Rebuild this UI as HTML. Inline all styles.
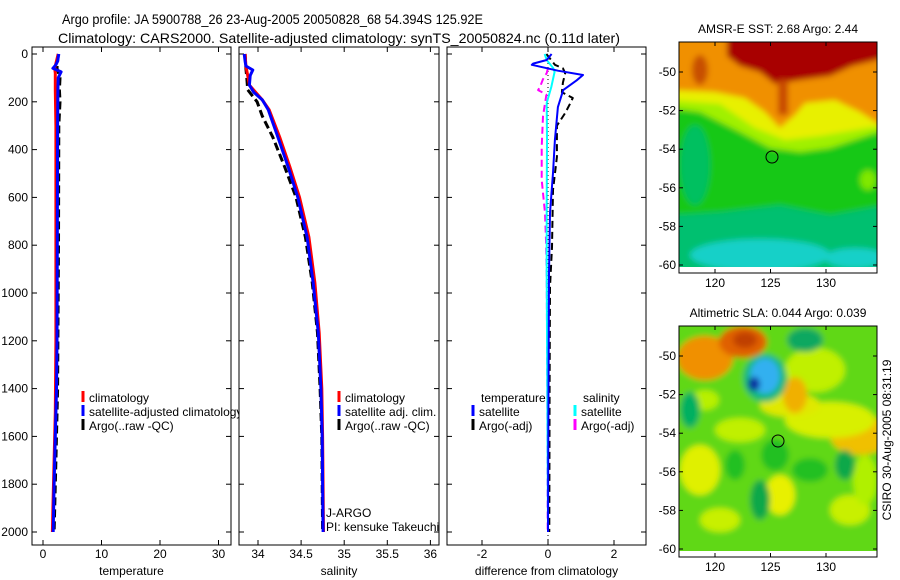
<!DOCTYPE html>
<html><head><meta charset="utf-8"><style>
body{margin:0;background:#fff}
svg{display:block;font-family:"Liberation Sans",sans-serif;font-size:12px}
</style></head><body>
<svg id="c" width="900" height="580" viewBox="0 0 900 580">
<defs>
<filter id="bl" x="-10%" y="-10%" width="120%" height="120%"><feGaussianBlur stdDeviation="3"/></filter>
<clipPath id="cm1"><rect x="679" y="42" width="198" height="225"/></clipPath>
<clipPath id="cm2"><rect x="679" y="326" width="198" height="225"/></clipPath>
</defs>
<text x="62" y="24" font-size="14" textLength="421" lengthAdjust="spacingAndGlyphs">Argo profile: JA 5900788_26 23-Aug-2005 20050828_68 54.394S 125.92E</text>
<text x="58" y="43" font-size="14" textLength="562" lengthAdjust="spacingAndGlyphs">Climatology: CARS2000. Satellite-adjusted climatology: synTS_20050824.nc (0.11d later)</text>

<g>
<text x="778" y="33" text-anchor="middle">AMSR-E SST: 2.68 Argo: 2.44</text>
<g clip-path="url(#cm1)"><g filter="url(#bl)">
<rect x="670" y="35" width="215" height="240" fill="#14c814"/>
<polygon points="670,215 720,212 780,205 830,215 885,205 885,275 670,275" fill="#00c070"/>
<ellipse cx="760" cy="255" rx="70" ry="16" fill="#18d0c8"/>
<ellipse cx="855" cy="258" rx="30" ry="10" fill="#18d0c8"/>
<ellipse cx="695" cy="165" rx="15" ry="40" fill="#00c060"/>
<polygon points="670,108 700,112 740,132 770,148 800,152 830,148 885,130 885,35 670,35" fill="#a0f000"/>
<polygon points="670,100 720,104 755,128 785,140 820,136 885,125 885,35 670,35" fill="#e8f000"/>
<polygon points="670,90 715,92 745,98 765,112 780,128 795,115 805,103 835,100 860,112 885,128 885,35 670,35" fill="#f09000"/>
<polygon points="727,35 885,35 885,58 852,66 830,76 800,80 775,84 760,72 740,66 727,56" fill="#a80000"/>
<rect x="778" y="80" width="10" height="35" fill="#c84800"/>
<ellipse cx="700" cy="70" rx="8" ry="15" fill="#c85000"/>
<ellipse cx="868" cy="180" rx="8" ry="10" fill="#80e800"/>
</g></g>
<rect x="679" y="42" width="198" height="231" fill="none" stroke="#000"/>
<circle cx="772" cy="157" r="6" fill="none" stroke="#000"/>
</g>

<g>
<text x="778" y="317" text-anchor="middle">Altimetric SLA: 0.044 Argo: 0.039</text>
<g clip-path="url(#cm2)"><g filter="url(#bl)">
<rect x="670" y="320" width="215" height="240" fill="#60d818"/>
<ellipse cx="860" cy="435" rx="30" ry="20" fill="#f0c000"/>
<ellipse cx="830" cy="420" rx="45" ry="18" fill="#d8f000"/>
<ellipse cx="790" cy="405" rx="30" ry="12" fill="#e0e800"/>
<ellipse cx="815" cy="370" rx="30" ry="22" fill="#c0f000"/>
<ellipse cx="795" cy="395" rx="12" ry="18" fill="#f0b000"/>
<ellipse cx="700" cy="470" rx="20" ry="25" fill="#e0f000"/>
<ellipse cx="780" cy="495" rx="15" ry="20" fill="#e8f000"/>
<ellipse cx="850" cy="510" rx="20" ry="15" fill="#c8f000"/>
<ellipse cx="740" cy="430" rx="25" ry="12" fill="#c0f000"/>
<ellipse cx="720" cy="520" rx="20" ry="12" fill="#c8f000"/>
<ellipse cx="865" cy="480" rx="12" ry="25" fill="#b0f000"/>
<ellipse cx="705" cy="400" rx="14" ry="10" fill="#b8f000"/>
<ellipse cx="775" cy="455" rx="14" ry="16" fill="#20c020"/>
<ellipse cx="735" cy="465" rx="10" ry="15" fill="#20c020"/>
<ellipse cx="810" cy="470" rx="18" ry="12" fill="#20c020"/>
<ellipse cx="690" cy="410" rx="10" ry="18" fill="#00b060"/>
<ellipse cx="760" cy="500" rx="10" ry="20" fill="#10a848"/>
<ellipse cx="845" cy="465" rx="10" ry="15" fill="#10a848"/>
<ellipse cx="705" cy="358" rx="28" ry="22" fill="#f09000"/>
<ellipse cx="743" cy="342" rx="24" ry="16" fill="#e06000"/>
<ellipse cx="745" cy="340" rx="12" ry="8" fill="#c04000"/>
<ellipse cx="765" cy="378" rx="22" ry="24" fill="#10b878"/>
<ellipse cx="765" cy="376" rx="15" ry="18" fill="#30b0f0"/>
<ellipse cx="754" cy="384" rx="6" ry="7" fill="#1030a0"/>
<ellipse cx="805" cy="340" rx="18" ry="12" fill="#10a860"/>
</g></g>
<rect x="679" y="326" width="198" height="231" fill="none" stroke="#000"/>
<circle cx="778" cy="441" r="6" fill="none" stroke="#000"/>
<text transform="translate(891,440) rotate(-90)" text-anchor="middle">CSIRO 30-Aug-2005 08:31:19</text>
</g>
<g id="g"></g>
</svg>
<script>
// ---- data ----
const depthTicks=[0,200,400,600,800,1000,1200,1400,1600,1800,2000];
const tempTicks=[0,10,20,30];
const salTicks=[34,34.5,35,35.5,36];
const diffTicks=[-2,0,2];
const lonTicks=[120,125,130];
const latTicks=[-50,-52,-54,-56,-58,-60];

const tBlueD=[0,30,45,60,75,100,150,300,800,1200,1400,1600,1800,2000];
const tBlueV=[2.7,2.5,2.2,1.7,3.1,2.6,2.55,2.5,2.45,2.4,2.3,2.1,1.9,1.75];
const tRedD=[0,60,80,150,300,800,1200,1500,1700,1900,2000];
const tRedV=[2.6,2.0,2.1,2.1,2.2,2.2,2.2,2.1,1.9,1.7,1.6];
const tArgoD=[0,60,100,150,200,300,800,1400,1700,1900,2000];
const tArgoV=[2.6,2.4,2.9,2.8,2.9,2.7,2.65,2.5,2.2,2.0,1.9];

const sBlueD=[0,30,50,67,90,130,160,192,234,347,473,598,766,958,1167,1400,1600,1800,2000];
const sBlueV=[33.84,33.85,33.86,33.94,33.91,33.90,33.95,34.05,34.12,34.23,34.35,34.46,34.57,34.64,34.70,34.73,34.745,34.75,34.755];
const sRedD=[0,50,90,130,192,234,347,473,598,766,958,1167,1400,1600,2000];
const sRedV=[33.85,33.86,33.88,33.90,34.05,34.13,34.25,34.37,34.48,34.59,34.66,34.71,34.74,34.75,34.76];
const sArgoD=[0,60,100,150,200,260,347,473,598,766,958,1167,1400,1600,2000];
const sArgoV=[33.85,33.86,33.87,33.88,33.99,34.05,34.17,34.31,34.44,34.55,34.63,34.69,34.72,34.74,34.75];

const dTBlueD=[0,25,40,45,70,88,110,151,222,360,498,665,916,1200,1600,2000];
const dTBlueV=[0.11,-0.04,-0.45,-0.49,0.3,1.06,0.87,0.46,0.30,0.21,0.15,0.06,0.03,0.02,0.01,0.0];
const dTArgoD=[0,45,60,80,120,160,184,210,247,300,431,569,808,975,1400,2000];
const dTArgoV=[-0.05,0.21,0.45,0.52,0.45,0.42,0.75,0.66,0.52,0.27,0.27,0.15,0.12,0.06,0.05,0.04];
const dSBlueD=[0,25,60,75,138,205,360,640,916,1400,2000];
const dSBlueV=[-0.1,-0.04,0.16,0.2,0.1,-0.04,-0.03,-0.04,-0.04,-0.02,0.0];
const dSArgoD=[60,80,105,140,151,170,260,389,527,665,778,916,1400,2000];
const dSArgoV=[0,-0.04,-0.15,-0.25,-0.3,-0.05,-0.15,-0.19,-0.19,-0.09,-0.06,-0.04,-0.02,-0.01];

// ---- drawing ----
const NS='http://www.w3.org/2000/svg';
const G=document.getElementById('g');
function mk(tag,attrs,parent){const e=document.createElementNS(NS,tag);for(const k in attrs)e.setAttribute(k,attrs[k]);(parent||G).appendChild(e);return e;}
const top0=47,bot0=545;
const yD=d=>54+d*47.8/200;
const panels=[
 {x0:32,x1:231,px0:43,ppu:5.85,ref:0,ticks:tempTicks,label:'temperature',name:'temperature-panel'},
 {x0:239,x1:439,px0:258,ppu:86.2,ref:34,ticks:salTicks,label:'salinity',name:'salinity-panel'},
 {x0:447,x1:646,px0:548,ppu:33,ref:0,ticks:diffTicks,label:'difference from climatology',name:'difference-panel'}
];
panels.forEach(p=>{
 p.xs=v=>p.px0+(v-p.ref)*p.ppu;
 const g=mk('g',{});
 
 
 p.g=g;
});
function line(p,D,V,color,w,dash,name){
 const pts=D.map((d,k)=>p.xs(V[k]).toFixed(1)+','+yD(d).toFixed(1)).join(' ');
 const a={points:pts,fill:'none',stroke:color,'stroke-width':w,'stroke-linejoin':'round'};
 if(dash)a['stroke-dasharray']=dash;
 const e=mk('polyline',a,p.g);
 
 
}
function frame(p,i){
 const r=mk('rect',{x:p.x0,y:top0,width:p.x1-p.x0,height:bot0-top0,fill:'#fff',stroke:'#000'},p.g);
 
 
 depthTicks.forEach(d=>{
  const y=yD(d);
  mk('line',{x1:p.x0,x2:p.x0+5,y1:y,y2:y,stroke:'#000'},p.g);
  mk('line',{x1:p.x1,x2:p.x1-5,y1:y,y2:y,stroke:'#000'},p.g);
  if(i==0){const t=mk('text',{x:28,y:y+4,'text-anchor':'end'},p.g);t.textContent=d;
   
   }
 });
 p.ticks.forEach(v=>{
  const x=p.xs(v);
  mk('line',{x1:x,x2:x,y1:bot0,y2:bot0-5,stroke:'#000'},p.g);
  mk('line',{x1:x,x2:x,y1:top0,y2:top0+5,stroke:'#000'},p.g);
  const t=mk('text',{x:x,y:558,'text-anchor':'middle'},p.g);t.textContent=v;
  
  
 });
 const t=mk('text',{x:(p.x0+p.x1)/2,y:575,'text-anchor':'middle'},p.g);t.textContent=p.label;
 
 
}
function legend(p,x,y,color,txt){
 mk('line',{x1:x,x2:x,y1:y-11,y2:y,stroke:color,'stroke-width':3},p.g);
 const t=mk('text',{x:x+6,y:y},p.g);t.textContent=txt;
 
 
}
// panel 1
let p=panels[0];frame(p,0);
line(p,tArgoD,tArgoV,'#000',3,'8,4','argo-temperature');
line(p,tRedD,tRedV,'#f00',3,null,'climatology-temperature');
line(p,tBlueD,tBlueV,'#00f',3,null,'satellite-temperature');
legend(p,83,402,'#f00','climatology');legend(p,83,416,'#00f','satellite-adjusted climatology');legend(p,83,430,'#000','Argo(..raw -QC)');
// panel 2
p=panels[1];frame(p,1);
line(p,sArgoD,sArgoV,'#000',3,'8,4','argo-salinity');
line(p,sRedD,sRedV,'#f00',3,null,'climatology-salinity');
line(p,sBlueD,sBlueV,'#00f',3,null,'satellite-salinity');
legend(p,339,402,'#f00','climatology');legend(p,339,416,'#00f','satellite adj. clim.');legend(p,339,430,'#000','Argo(..raw -QC)');
let t=mk('text',{x:326,y:517},p.g);t.textContent='J-ARGO';


t=mk('text',{x:326,y:531},p.g);t.textContent='PI: kensuke Takeuchi';


// panel 3
p=panels[2];frame(p,2);
mk('line',{x1:p.xs(0),x2:p.xs(0),y1:top0,y2:bot0,stroke:'#000','stroke-dasharray':'1,3'},p.g);
line(p,dTArgoD,dTArgoV,'#000',2,'7,4','argo-temperature-difference');
line(p,dSArgoD,dSArgoV,'#f0f',2,'7,4','argo-salinity-difference');
line(p,dSBlueD,dSBlueV,'#0ff',2,null,'satellite-salinity-difference');
line(p,dTBlueD,dTBlueV,'#00f',2,null,'satellite-temperature-difference');
t=mk('text',{x:481,y:402},p.g);t.textContent='temperature';


t=mk('text',{x:583,y:402},p.g);t.textContent='salinity';


legend(p,473,416,'#00f','satellite');legend(p,473,430,'#000','Argo(-adj)');
legend(p,575,416,'#0ff','satellite');legend(p,575,430,'#f0f','Argo(-adj)');
// map axes
[[42,273,72],[326,557,356]].forEach(([y0,y1,y50])=>{
 const lx=lon=>715+(lon-120)*11.1;
 const ly=lat=>y50+(-50-lat)*19.3;
 lonTicks.forEach(v=>{
  mk('line',{x1:lx(v),x2:lx(v),y1:y1,y2:y1-4,stroke:'#000'});
  mk('line',{x1:lx(v),x2:lx(v),y1:y0,y2:y0+4,stroke:'#000'});
  const e=mk('text',{x:lx(v),y:y1+14,'text-anchor':'middle'});e.textContent=v;
  
  
 });
 latTicks.forEach(v=>{
  mk('line',{x1:679,x2:683,y1:ly(v),y2:ly(v),stroke:'#000'});
  mk('line',{x1:877,x2:873,y1:ly(v),y2:ly(v),stroke:'#000'});
  const e=mk('text',{x:676,y:ly(v)+4,'text-anchor':'end'});e.textContent=v;
  
  
 });
});
</script>
</body></html>
